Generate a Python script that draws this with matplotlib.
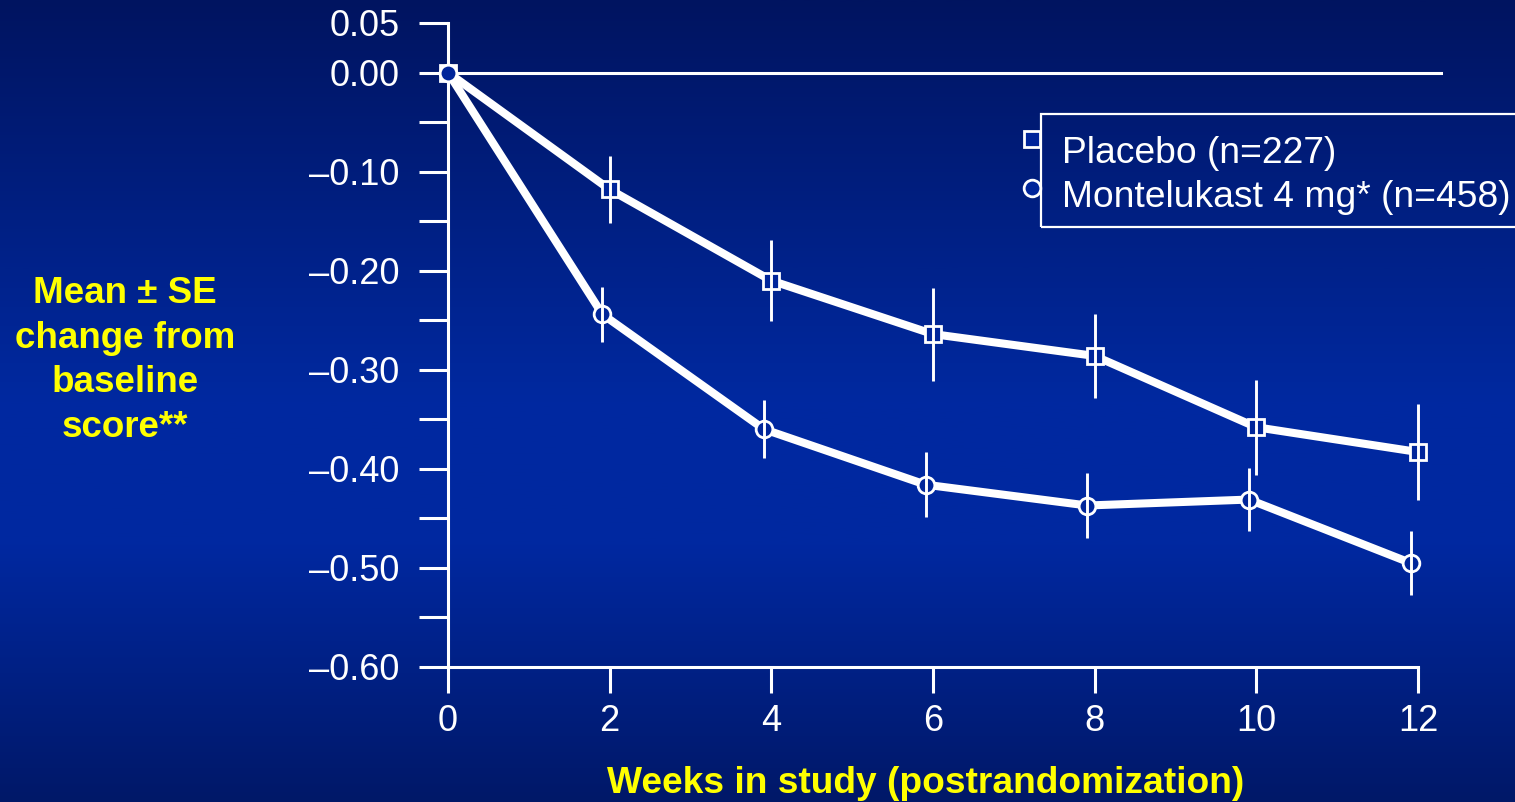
import matplotlib
matplotlib.use('Agg')
import matplotlib.pyplot as plt
import numpy as np
from matplotlib.patches import Rectangle
from matplotlib.lines import Line2D
from matplotlib.colors import LinearSegmentedColormap

plt.rcParams['font.family'] = ['Liberation Sans', 'DejaVu Sans']

# ---- data ----
weeks = [0, 2, 4, 6, 8, 10, 12]
placebo_mean = [0.0, -0.118, -0.210, -0.264, -0.286, -0.358, -0.383]
placebo_se = [0.0, 0.034, 0.041, 0.047, 0.042, 0.048, 0.048]
monte_mean = [0.0, -0.244, -0.360, -0.416, -0.437, -0.431, -0.495]
monte_se = [0.0, 0.028, 0.029, 0.033, 0.033, 0.032, 0.032]
series_labels = ['Placebo (n=227)', 'Montelukast 4 mg* (n=458)']
y_major = [0.05, 0.0, -0.1, -0.2, -0.3, -0.4, -0.5, -0.6]
y_labels = ['0.05', '0.00', '\u20130.10', '\u20130.20', '\u20130.30',
            '\u20130.40', '\u20130.50', '\u20130.60']
y_minor = [-0.05, -0.15, -0.25, -0.35, -0.45, -0.55]
x_labels = ['0', '2', '4', '6', '8', '10', '12']
ylabel_lines = ['Mean \u00b1 SE', 'change from', 'baseline', 'score**']
xlabel = 'Weeks in study (postrandomization)'

W, H = 1515, 802
fig = plt.figure(figsize=(W / 100, H / 100), dpi=100)

# background gradient
bg = fig.add_axes([0, 0, 1, 1], zorder=-10)
cmap = LinearSegmentedColormap.from_list(
    'bg', [(0.0, '#001460'), (0.5, '#0029a0'), (0.68, '#0028a0'), (1.0, '#001868')])
bg.imshow(np.linspace(0, 1, 512).reshape(-1, 1), aspect='auto', cmap=cmap,
          extent=[0, 1, 0, 1], origin='upper')
bg.axis('off')

face = '#00259a'
white = 'white'
yellow = '#ffff00'

ax = fig.add_axes([448 / W, 1 - 667 / H, (1443 - 448) / W, (667 - 22) / H])
ax.set_facecolor('none')
ax.set_xlim(0, 12.31)
ax.set_ylim(-0.6, 0.051)

for s in ['top', 'right']:
    ax.spines[s].set_visible(False)
for s in ['left', 'bottom']:
    ax.spines[s].set_color(white)
    ax.spines[s].set_linewidth(2.2)
ax.spines['bottom'].set_bounds(0, 12)
ax.spines['left'].set_bounds(-0.6, 0.05)

ax.set_yticks(y_major, y_labels)
ax.set_yticks(y_minor, minor=True)
ax.set_xticks(weeks, x_labels)
ax.tick_params(axis='y', which='both', direction='out', length=21, width=2.2,
               color=white, labelcolor=white, labelsize=26, pad=14)
ax.tick_params(axis='x', which='both', direction='out', length=18.5, width=2.2,
               color=white, labelcolor=white, labelsize=26, pad=8)

ax.axhline(0, color=white, lw=2.2, zorder=2)

x_monte = [w - 0.09 if w > 0 else w for w in weeks]

ax.plot(weeks, placebo_mean, color=white, lw=5.8, zorder=3, clip_on=False)
ax.plot(x_monte, monte_mean, color=white, lw=5.8, zorder=3, clip_on=False)
ax.plot(weeks, placebo_mean, ls='none', marker='s', ms=11.5, mfc=face, mec=white,
        mew=2, zorder=4, clip_on=False)
ax.plot(x_monte, monte_mean, ls='none', marker='o', ms=12, mfc=face, mec=white,
        mew=2, zorder=4, clip_on=False)
ax.errorbar(weeks[1:], placebo_mean[1:], yerr=placebo_se[1:], fmt='none',
            ecolor=white, elinewidth=2.1, capsize=0, zorder=5)
ax.errorbar(x_monte[1:], monte_mean[1:], yerr=monte_se[1:], fmt='none',
            ecolor=white, elinewidth=2.1, capsize=0, zorder=5)

# legend (manual)
fig.add_artist(Rectangle((1041 / W, 1 - 227 / H), (1530 - 1041) / W, (227 - 114) / H,
                         transform=fig.transFigure, fill=False, ec=white, lw=1.6))
fig.add_artist(Line2D([1032 / W], [1 - 139 / H], marker='s', ms=11.5, mfc=face,
                      mec=white, mew=2, transform=fig.transFigure))
fig.add_artist(Line2D([1032 / W], [1 - 188 / H], marker='o', ms=12, mfc=face,
                      mec=white, mew=2, transform=fig.transFigure))
fig.text(1062 / W, 1 - 163 / H, series_labels[0], ha='left', va='baseline',
         fontsize=26.8, color=white)
fig.text(1062 / W, 1 - 207 / H, series_labels[1], ha='left', va='baseline',
         fontsize=26.8, color=white)

# axis titles
for i, line in enumerate(ylabel_lines):
    fig.text(125 / W, 1 - (303 + 44.7 * i) / H, line, ha='center', va='baseline',
             fontsize=26.5, fontweight='bold', color=yellow)
fig.text(926 / W, 1 - 793 / H, xlabel, ha='center', va='baseline',
         fontsize=26.7, fontweight='bold', color=yellow)

fig.savefig('out.png', dpi=100)
